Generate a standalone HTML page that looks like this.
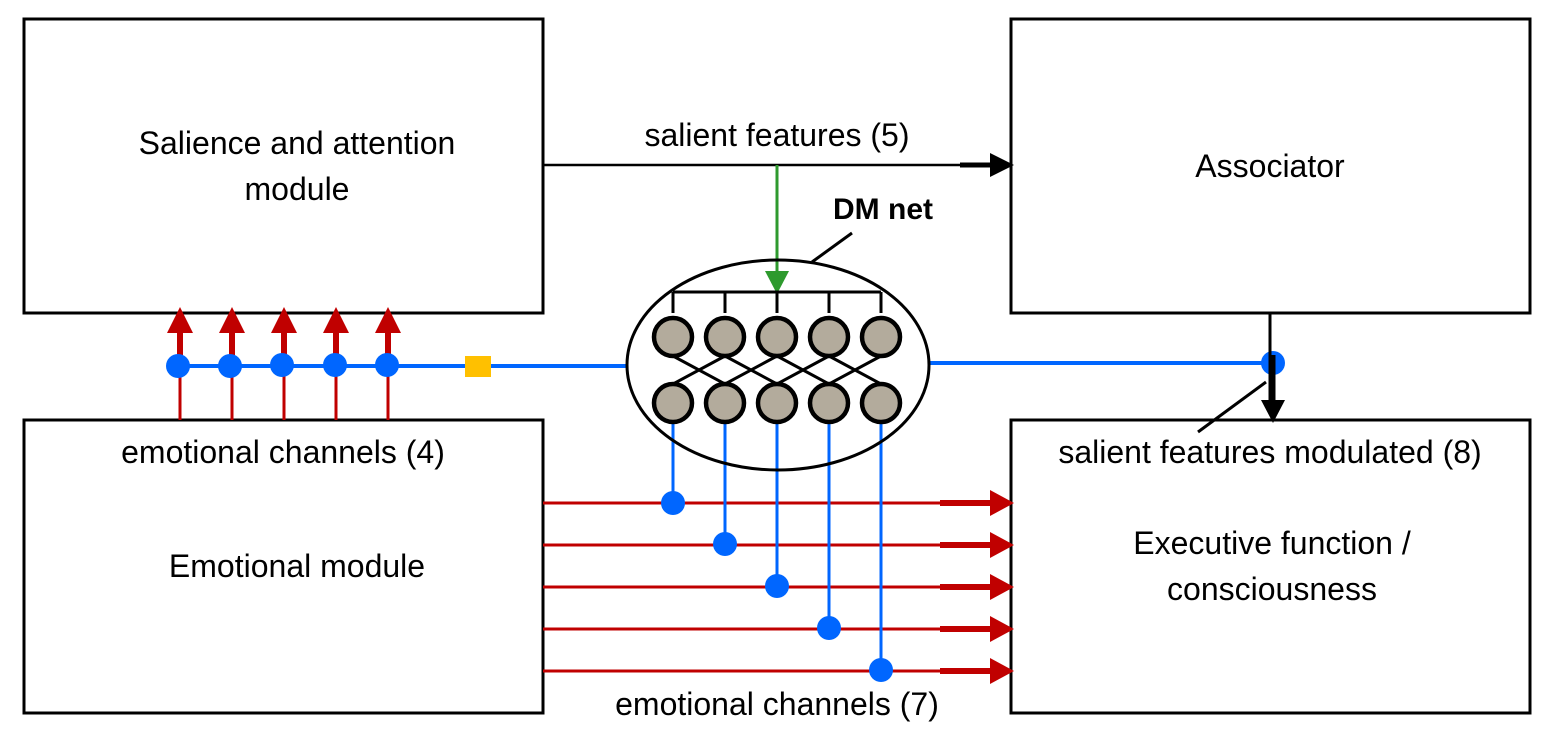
<!DOCTYPE html>
<html><head><meta charset="utf-8"><style>html,body{margin:0;padding:0;background:#fff}svg{display:block}</style></head><body>
<svg width="1556" height="734" viewBox="0 0 1556 734" xmlns="http://www.w3.org/2000/svg" font-family="Liberation Sans, Arial, sans-serif" font-size="32" text-anchor="middle">
<g fill="none" stroke="#000" stroke-width="3">
<rect x="24" y="19" width="519" height="294"/>
<rect x="1011" y="19" width="519" height="294"/>
<rect x="24" y="420" width="519" height="293"/>
<rect x="1011" y="420" width="519" height="293"/>
</g>
<text x="297" y="154">Salience and attention</text>
<text x="297" y="200">module</text>
<text x="1270" y="177">Associator</text>
<text x="297" y="577">Emotional module</text>
<text x="1272" y="554">Executive function /</text>
<text x="1272" y="600">consciousness</text>
<text x="777" y="146">salient features (5)</text>
<text x="883" y="219" font-weight="bold" font-size="30">DM net</text>
<text x="283" y="463">emotional channels (4)</text>
<text x="1270" y="463">salient features modulated (8)</text>
<text x="777" y="715">emotional channels (7)</text>
<line x1="543" y1="165" x2="995" y2="165" stroke="#000" stroke-width="2.5"/>
<line x1="960" y1="165" x2="995" y2="165" stroke="#000" stroke-width="5"/>
<polygon points="990,153 1014,165 990,177" fill="#000"/>
<line x1="777" y1="165" x2="777" y2="275" stroke="#2e9a2e" stroke-width="3"/>
<polygon points="765,271 789,271 777,294" fill="#2e9a2e"/>
<line x1="812" y1="262" x2="852" y2="233" stroke="#000" stroke-width="3"/>
<line x1="178" y1="366" x2="627" y2="366" stroke="#0066ff" stroke-width="4"/>
<line x1="929" y1="363" x2="1273" y2="363" stroke="#0066ff" stroke-width="4"/>
<rect x="465" y="356" width="26" height="21" fill="#ffc000"/>
<g fill="#c00000">
<g id="ua">
<line x1="180" y1="420" x2="180" y2="330" stroke="#c00000" stroke-width="3"/>
<line x1="180" y1="355" x2="180" y2="330" stroke="#c00000" stroke-width="6"/>
<polygon points="167,333 193,333 180,307"/>
</g>
<use href="#ua" x="52"/><use href="#ua" x="104"/><use href="#ua" x="156"/><use href="#ua" x="208"/>
</g>
<g fill="#0066ff"><circle cx="178" cy="366" r="12"/><circle cx="230" cy="366" r="12"/><circle cx="282" cy="365" r="12"/><circle cx="335" cy="365" r="12"/><circle cx="387" cy="365" r="12"/></g>
<g fill="#c00000" stroke="#c00000">
<g id="ra">
<line x1="543" y1="503" x2="995" y2="503" stroke-width="3"/>
<line x1="940" y1="503" x2="995" y2="503" stroke-width="6"/>
<polygon points="990,490 1014,503 990,516" stroke="none"/>
</g>
<use href="#ra" y="42"/><use href="#ra" y="84"/><use href="#ra" y="126"/><use href="#ra" y="168"/>
</g>
<g stroke="#0066ff" stroke-width="3">
<line x1="673" y1="420" x2="673" y2="503"/><line x1="725" y1="420" x2="725" y2="545"/><line x1="777" y1="420" x2="777" y2="587"/><line x1="829" y1="420" x2="829" y2="629"/><line x1="881" y1="420" x2="881" y2="671"/>
</g>
<g fill="#0066ff"><circle cx="673" cy="503" r="12"/><circle cx="725" cy="544" r="12"/><circle cx="777" cy="586" r="12"/><circle cx="829" cy="628" r="12"/><circle cx="881" cy="670" r="12"/></g>
<ellipse cx="778" cy="365" rx="151" ry="105" fill="none" stroke="#000" stroke-width="3"/>
<g stroke="#000" stroke-width="3" fill="none">
<line x1="673" y1="292" x2="881" y2="292"/>
<line x1="673" y1="292" x2="673" y2="313"/><line x1="725" y1="292" x2="725" y2="313"/><line x1="777" y1="292" x2="777" y2="313"/><line x1="829" y1="292" x2="829" y2="313"/><line x1="881" y1="292" x2="881" y2="313"/>
<path d="M673 356 L725 384 M725 356 L777 384 M777 356 L829 384 M829 356 L881 384 M725 356 L673 384 M777 356 L725 384 M829 356 L777 384 M881 356 L829 384"/>
</g>
<g fill="#b3ab9c" stroke="#000" stroke-width="4.5">
<circle cx="673" cy="337" r="19"/><circle cx="725" cy="337" r="19"/><circle cx="777" cy="337" r="19"/><circle cx="829" cy="337" r="19"/><circle cx="881" cy="337" r="19"/>
<circle cx="673" cy="403" r="19"/><circle cx="725" cy="403" r="19"/><circle cx="777" cy="403" r="19"/><circle cx="829" cy="403" r="19"/><circle cx="881" cy="403" r="19"/>
</g>
<circle cx="1273" cy="363" r="12" fill="#0066ff"/>
<line x1="1270" y1="313" x2="1270" y2="400" stroke="#000" stroke-width="3"/>
<line x1="1273" y1="355" x2="1273" y2="402" stroke="#000" stroke-width="5"/>
<polygon points="1261,400 1285,400 1273,423" fill="#000"/>
<line x1="1266" y1="382" x2="1198" y2="432" stroke="#000" stroke-width="3"/>
</svg>
</body></html>
